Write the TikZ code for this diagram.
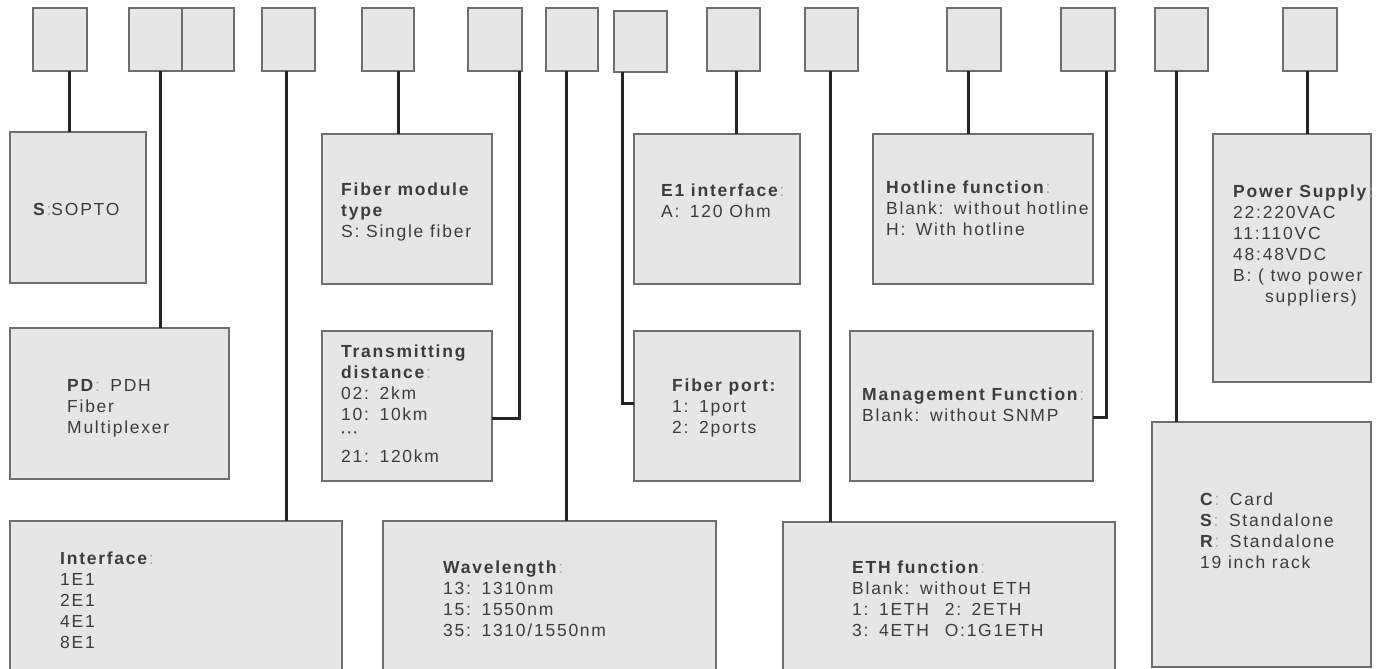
\documentclass[tikz,border=0pt]{standalone}
\usepackage{fontspec}
\setmainfont{Liberation Sans}[LetterSpace=10]
\usetikzlibrary{calc}
\definecolor{boxfill}{HTML}{E6E6E6}
\definecolor{boxline}{HTML}{6E6E6E}
\definecolor{txtc}{HTML}{3C3C3C}
\definecolor{colonc}{HTML}{A8A8A8}
\newcommand{\lcol}{\textcolor{colonc}{:}}
\newcommand{\cs}{:\hspace{0.6em}}
\tikzset{
  sqbox/.style={draw=boxline, fill=boxfill, line width=1.5pt, minimum width=53pt, minimum height=63pt, anchor=north west, inner sep=0pt, outer sep=0pt},
  infobox/.style={draw=boxline, fill=boxfill, line width=1.5pt, anchor=north west, inner sep=0pt, outer sep=0pt},
  conn/.style={draw=black!85, line width=3pt},
  lbl/.style={anchor=base west, inner sep=0pt, align=left, text=txtc, font=\fontsize{17.5}{21}\selectfont}
}
\begin{document}
\begin{tikzpicture}[x=1pt,y=-1pt]
\useasboundingbox (0,0) rectangle (1381,669);
\clip (0,0) rectangle (1381,669);
\fill[white] (0,0) rectangle (1381,669);
% top squares
\node[sqbox, minimum width=54pt] (s1) at (33,8) {};
\node[sqbox] (s2) at (129,8) {};
\node[sqbox, minimum width=52pt] (s3) at (182,8) {};
\node[sqbox] (s4) at (262,8) {};
\node[sqbox, minimum width=52pt] (s5) at (362,8) {};
\node[sqbox, minimum width=54pt] (s6) at (468,8) {};
\node[sqbox, minimum width=52pt] (s7) at (546,8) {};
\node[sqbox, minimum height=61pt] (s8) at (614,11) {};
\node[sqbox] (s9) at (707,8) {};
\node[sqbox] (s10) at (805,8) {};
\node[sqbox, minimum width=54pt] (s11) at (947,8) {};
\node[sqbox, minimum width=54pt] (s12) at (1061,8) {};
\node[sqbox] (s13) at (1155,8) {};
\node[sqbox, minimum width=54pt] (s14) at (1283,8) {};
% info boxes
\node[infobox, minimum width=136pt, minimum height=151pt] (sopto) at (10,132) {};
\node[infobox, minimum width=219pt, minimum height=151pt] (pd) at (10,328) {};
\node[infobox, minimum width=170pt, minimum height=150pt] (fmod) at (322,134) {};
\node[infobox, minimum width=170pt, minimum height=150pt] (trans) at (322,331) {};
\node[infobox, minimum width=166pt, minimum height=150pt] (e1) at (634,134) {};
\node[infobox, minimum width=166pt, minimum height=150pt] (fport) at (634,331) {};
\node[infobox, minimum width=220pt, minimum height=150pt] (hot) at (873,134) {};
\node[infobox, minimum width=243pt, minimum height=150pt] (mgmt) at (850,331) {};
\node[infobox, minimum width=158pt, minimum height=248pt] (power) at (1213,134) {};
\node[infobox, minimum width=219pt, minimum height=245pt] (card) at (1152,422) {};
\node[infobox, minimum width=332pt, minimum height=170pt] (iface) at (10,521) {};
\node[infobox, minimum width=333pt, minimum height=170pt] (wave) at (383,521) {};
\node[infobox, minimum width=332pt, minimum height=170pt] (eth) at (783,522) {};
% connectors
\draw[conn] ([xshift=9pt]s1.south) -- ([xshift=9pt]s1.south |- sopto.north);
\draw[conn] ([xshift=4.5pt]s2.south) -- ([xshift=4.5pt]s2.south |- pd.north);
\draw[conn] ([xshift=-2.5pt]s4.south) -- ([xshift=-2.5pt]s4.south |- iface.north);
\draw[conn] ([xshift=10pt]s5.south) -- ([xshift=10pt]s5.south |- fmod.north);
\draw[conn] ([xshift=-3pt]s6.south east) |- ([yshift=-12pt]trans.east);
\draw[conn] ([xshift=-6pt]s7.south) -- ([xshift=-6pt]s7.south |- wave.north);
\draw[conn] ([xshift=8pt]s8.south west) |- ([yshift=3pt]fport.west);
\draw[conn] ([xshift=2.5pt]s9.south) -- ([xshift=2.5pt]s9.south |- e1.north);
\draw[conn] ([xshift=-1.5pt]s10.south) -- ([xshift=-1.5pt]s10.south |- eth.north);
\draw[conn] ([xshift=-6pt]s11.south) -- ([xshift=-6pt]s11.south |- hot.north);
\draw[conn] ([xshift=-9pt]s12.south east) |- ([yshift=-11pt]mgmt.east);
\draw[conn] ([xshift=-5.5pt]s13.south) -- ([xshift=-5.5pt]s13.south |- card.north);
\draw[conn] ([xshift=-3pt]s14.south) -- ([xshift=-3pt]s14.south |- power.north);
% texts (anchored at the baseline of the last line)
\node[lbl] (soptoT) at (33,215) {\textbf{S}\lcol SOPTO};
\node[lbl] (pdT) at (67,433) {\textbf{PD}\lcol\hspace{0.6em}PDH\\Fiber\\Multiplexer};
\node[lbl] (fmodT) at (341,237) {\textbf{Fiber module}\\\textbf{type}\\S: Single fiber};
\node[lbl] (transT) at (341,462) {\textbf{Transmitting}\\\textbf{distance}\lcol\\02\cs 2km\\10\cs 10km\\\raisebox{4pt}{\fontsize{14}{14}\selectfont\textbf{···}}\\21\cs 120km};
\node[lbl] (e1T) at (661,217) {\textbf{E1 interface}\lcol\\A\cs 120 Ohm};
\node[lbl] (fportT) at (672,433) {\textbf{Fiber port:}\\1\cs 1port\\2\cs 2ports};
\node[lbl] (hotT) at (886,235) {\textbf{Hotline function}\lcol\\Blank\cs without hotline\\H\cs With hotline};
\node[lbl] (mgmtT) at (862,421) {\textbf{Management Function}\lcol\\Blank\cs without SNMP};
\node[lbl] (powerT) at (1233,302) {\textbf{Power Supply}\lcol\\22:220VAC\\11:110VC\\48:48VDC\\B: ( two power\\\hspace*{32pt}suppliers)};
\node[lbl] (ifaceT) at (60,648) {\textbf{Interface}\lcol\\1E1\\2E1\\4E1\\8E1};
\node[lbl] (waveT) at (443,636) {\textbf{Wavelength}\lcol\\13\cs 1310nm\\15\cs 1550nm\\35\cs 1310/1550nm};
\node[lbl] (ethT) at (852,636) {\textbf{ETH function}\lcol\\Blank\cs without ETH\\1\cs 1ETH\hspace{0.9em}2\cs 2ETH\\3\cs 4ETH\hspace{0.9em}O:1G1ETH};
\node[lbl] (cardT) at (1200,568) {\textbf{C}\lcol\hspace{0.6em}Card\\\textbf{S}\lcol\hspace{0.6em}Standalone\\\textbf{R}\lcol\hspace{0.6em}Standalone\\19 inch rack};
\end{tikzpicture}
\end{document}
